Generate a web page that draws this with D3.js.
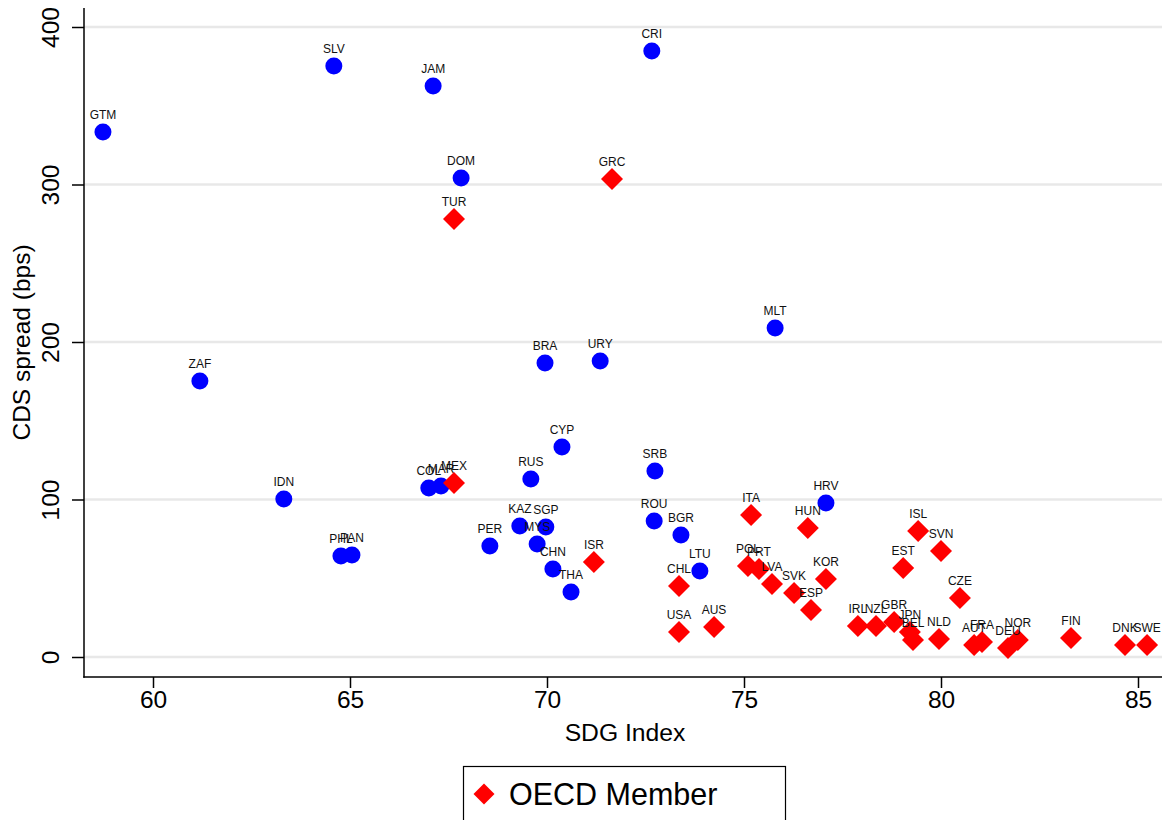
<!DOCTYPE html>
<html>
<head>
<meta charset="utf-8">
<script src="https://cdn.jsdelivr.net/npm/d3@7"></script>
<style>
  html, body { margin: 0; padding: 0; background: #fff; }
  svg { display: block; font-family: "Liberation Sans", Arial, sans-serif; }
</style>
</head>
<body>
<svg id="chart" width="1162" height="820"></svg>
<script>
// non-OECD countries
const otherCodes = ['GTM', 'SLV', 'JAM', 'CRI', 'DOM', 'ZAF', 'MLT', 'BRA', 'URY', 'CYP', 'SRB', 'IDN',
  'COL', 'MAR', 'RUS', 'KAZ', 'SGP', 'MYS', 'PER', 'CHN', 'THA', 'ROU', 'BGR', 'LTU', 'HRV', 'PHL', 'PAN'];
const otherSdg = [58.73, 64.59, 67.11, 72.66, 67.82, 61.19, 75.79, 69.95, 71.35, 70.38, 72.74, 63.32,
  67.0, 67.31, 69.59, 69.31, 69.97, 69.75, 68.55, 70.15, 70.61, 72.72, 73.40, 73.88, 77.08, 64.77, 65.05];
const otherCds = [333.3, 375.2, 362.5, 384.8, 304.1, 175.2, 208.9, 186.7, 187.9, 133.3, 118.1, 100.3,
  107.3, 108.6, 113.0, 83.2, 82.5, 71.7, 70.5, 55.9, 41.3, 86.3, 77.5, 54.6, 97.8, 64.1, 64.8];

// OECD members
const oecdCodes = ['GRC', 'TUR', 'MEX', 'ISR', 'CHL', 'USA', 'AUS', 'ITA', 'POL', 'PRT', 'LVA', 'SVK',
  'ESP', 'HUN', 'KOR', 'IRL', 'NZL', 'GBR', 'JPN', 'BEL', 'NLD', 'EST', 'ISL', 'SVN', 'CZE', 'AUT',
  'FRA', 'DEU', 'NOR', 'FIN', 'DNK', 'SWE'];
const oecdSdg = [71.65, 67.64, 67.64, 71.19, 73.35, 73.35, 74.24, 75.18, 75.10, 75.38, 75.71, 76.27,
  76.70, 76.62, 77.08, 77.89, 78.35, 78.81, 79.21, 79.29, 79.95, 79.04, 79.42, 80.0, 80.48, 80.84,
  81.04, 81.70, 81.95, 83.30, 84.67, 85.23];
const oecdCds = [303.5, 278.1, 110.5, 60.3, 45.1, 15.9, 19.0, 90.2, 57.8, 55.9, 46.3, 40.6,
  29.8, 81.9, 49.5, 19.7, 19.7, 22.2, 15.9, 10.8, 11.4, 56.5, 80.0, 67.3, 37.5, 7.6,
  9.5, 5.7, 10.8, 12.1, 7.6, 7.6];

const xTicks = [60, 65, 70, 75, 80, 85];
const yTicks = [0, 100, 200, 300, 400];

const svg = d3.select('#chart');
const plot = { left: 84, right: 1162, top: 8, bottom: 677 };

const x = d3.scaleLinear().domain([60, 85]).range([153, 1138]);
const y = d3.scaleLinear().domain([0, 400]).range([657, 27]);

const others = otherCodes.map((code, i) => ({ code, sdg: otherSdg[i], cds: otherCds[i] }));
const oecd = oecdCodes.map((code, i) => ({ code, sdg: oecdSdg[i], cds: oecdCds[i] }));

// gridlines
svg.append('g')
  .selectAll('line')
  .data(yTicks)
  .join('line')
  .attr('x1', plot.left)
  .attr('x2', plot.right)
  .attr('y1', (d) => y(d))
  .attr('y2', (d) => y(d))
  .attr('stroke', '#e8e8e8')
  .attr('stroke-width', 2.6);

// x axis
const xAxis = svg.append('g')
  .attr('transform', `translate(0,${plot.bottom})`)
  .call(d3.axisBottom(x).tickValues(xTicks).tickSize(11).tickPadding(3).tickFormat(d3.format('d')));
xAxis.select('.domain').remove();
xAxis.selectAll('.tick line').attr('stroke', '#000').attr('stroke-width', 1.5);
xAxis.selectAll('.tick text')
  .attr('font-size', 24.5)
  .attr('font-family', '"Liberation Sans", Arial, sans-serif')
  .attr('fill', '#000')
  .attr('dy', '0.71em');

// y axis
const yAxis = svg.append('g')
  .attr('transform', `translate(${plot.left},0)`)
  .call(d3.axisLeft(y).tickValues(yTicks).tickSize(12).tickFormat(d3.format('d')));
yAxis.select('.domain').remove();
yAxis.selectAll('.tick line').attr('stroke', '#000').attr('stroke-width', 1.5);
yAxis.selectAll('.tick text')
  .attr('font-size', 24.5)
  .attr('font-family', '"Liberation Sans", Arial, sans-serif')
  .attr('fill', '#000')
  .attr('x', null)
  .attr('dy', null)
  .attr('text-anchor', 'middle')
  .attr('transform', 'translate(-25,0) rotate(-90)');

// axis lines
svg.append('line')
  .attr('x1', plot.left).attr('x2', plot.left)
  .attr('y1', plot.top).attr('y2', plot.bottom + 0.75)
  .attr('stroke', '#000').attr('stroke-width', 1.5);
svg.append('line')
  .attr('x1', plot.left - 0.75).attr('x2', plot.right)
  .attr('y1', plot.bottom).attr('y2', plot.bottom)
  .attr('stroke', '#000').attr('stroke-width', 1.5);

// axis titles
svg.append('text')
  .attr('x', 625)
  .attr('y', 741)
  .attr('text-anchor', 'middle')
  .attr('font-size', 24.7)
  .text('SDG Index');

svg.append('text')
  .attr('transform', `translate(30,${(plot.top + plot.bottom) / 2}) rotate(-90)`)
  .attr('text-anchor', 'middle')
  .attr('font-size', 24.5)
  .text('CDS spread (bps)');

const diamond = (s) => `M0,${-s}L${s},0L0,${s}L${-s},0Z`;

// non-OECD markers + labels
const otherG = svg.append('g');
otherG.selectAll('circle')
  .data(others)
  .join('circle')
  .attr('cx', (d) => x(d.sdg))
  .attr('cy', (d) => y(d.cds))
  .attr('r', 8.5)
  .attr('fill', '#0000ff');
otherG.selectAll('text')
  .data(others)
  .join('text')
  .attr('x', (d) => x(d.sdg))
  .attr('y', (d) => y(d.cds) - 13)
  .attr('text-anchor', 'middle')
  .attr('font-size', 12)
  .attr('fill', '#111')
  .text((d) => d.code);

// OECD markers + labels
const oecdG = svg.append('g');
oecdG.selectAll('path')
  .data(oecd)
  .join('path')
  .attr('transform', (d) => `translate(${x(d.sdg)},${y(d.cds)})`)
  .attr('d', diamond(11))
  .attr('fill', '#ff0000');
oecdG.selectAll('text')
  .data(oecd)
  .join('text')
  .attr('x', (d) => x(d.sdg))
  .attr('y', (d) => y(d.cds) - 13)
  .attr('text-anchor', 'middle')
  .attr('font-size', 12)
  .attr('fill', '#111')
  .text((d) => d.code);

// legend (cut off at the bottom edge)
const legend = svg.append('g');
legend.append('rect')
  .attr('x', 463.5).attr('y', 766.5)
  .attr('width', 322).attr('height', 90)
  .attr('fill', '#fff')
  .attr('stroke', '#000')
  .attr('stroke-width', 1.2);
legend.append('path')
  .attr('transform', 'translate(484,794)')
  .attr('d', diamond(10.5))
  .attr('fill', '#ff0000');
legend.append('text')
  .attr('x', 509)
  .attr('y', 805)
  .attr('font-size', 30.5)
  .text('OECD Member');
</script>
</body>
</html>
